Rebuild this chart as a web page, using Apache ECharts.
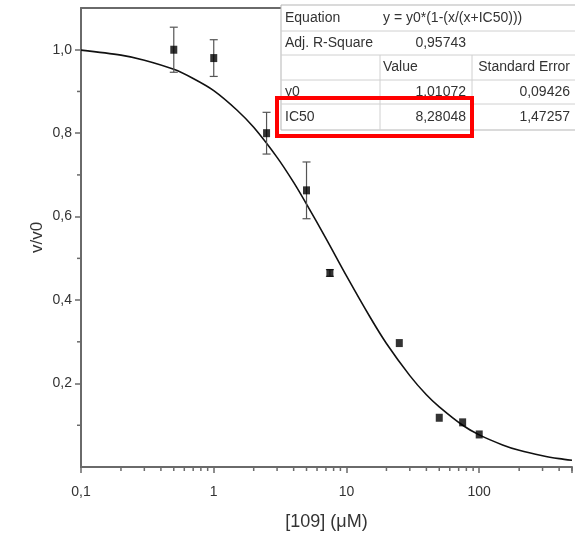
<!DOCTYPE html>
<html>
<head>
<meta charset="utf-8">
<script src="https://cdn.jsdelivr.net/npm/echarts@6/dist/echarts.min.js"></script>
<style>html,body{margin:0;padding:0;background:#fff}#c{width:575px;height:538px}</style>
</head>
<body>
<div id="c"></div>
<script>
// measured points
const xData = [0.5, 1, 2.5, 5, 7.5, 25, 50, 75, 100];
const yData = [1.00, 0.98, 0.80, 0.663, 0.465, 0.297, 0.118, 0.107, 0.078];
const yErr  = [0.054, 0.044, 0.05, 0.068, 0.008, 0, 0, 0, 0];
// fitted curve
const curveX = [0.1, 0.2, 0.3, 0.5, 0.7, 1, 1.5, 2, 3, 4, 5, 7, 10, 15, 20, 30, 40, 50, 75, 100, 150, 200, 300, 400, 500];
const curveY = [0.999, 0.987, 0.975, 0.953, 0.931, 0.902, 0.855, 0.814, 0.742, 0.682, 0.630, 0.548, 0.458, 0.360, 0.296, 0.219, 0.173, 0.144, 0.100, 0.077, 0.053, 0.040, 0.027, 0.020, 0.016];
// axis labels and ticks
const xTickLabels = [0.1, 1, 10, 100];
const yTickLabels = [0.2, 0.4, 0.6, 0.8, 1.0];
const yMinorTicks = [0.1, 0.3, 0.5, 0.7, 0.9];
const xMinorTicks = [];
[0.1, 1, 10, 100].forEach(d => { for (let k = 2; k <= 9; k++) { const v = +(d * k).toPrecision(3); if (v <= 500) xMinorTicks.push(v); } });
// fit table
const tableRows = [
  ['Equation', 'y = y0*(1-(x/(x+IC50)))', ''],
  ['Adj. R-Square', '0,95743', ''],
  ['', 'Value', 'Standard Error'],
  ['y0', '1,01072', '0,09426'],
  ['IC50', '8,28048', '1,47257']
];

const axisCol = '#6a6a6a';
const txtCol = '#333';
const fnt = 'Liberation Sans, Arial, sans-serif';

const chart = echarts.init(document.getElementById('c'));

const graphics = [];
const rowTops = [5, 31, 55, 80, 104, 130];
graphics.push({type:'rect', shape:{x:281, y:5, width:300, height:125}, style:{fill:'#fff', stroke:'#b5b5b5', lineWidth:1}, z:100});
for (let i = 1; i < rowTops.length - 1; i++) {
  graphics.push({type:'line', shape:{x1:281, y1:rowTops[i], x2:580, y2:rowTops[i]}, style:{stroke:'#d0d0d0', lineWidth:1}, z:101});
}
graphics.push({type:'line', shape:{x1:380, y1:55, x2:380, y2:130}, style:{stroke:'#d0d0d0', lineWidth:1}, z:101});
graphics.push({type:'line', shape:{x1:472, y1:55, x2:472, y2:130}, style:{stroke:'#d0d0d0', lineWidth:1}, z:101});
const tf = '14px ' + fnt;
tableRows.forEach((r, i) => {
  const cy = (rowTops[i] + rowTops[i+1]) / 2;
  graphics.push({type:'text', x:285, y:cy, style:{text:r[0], fill:txtCol, font:tf, verticalAlign:'middle', align:'left'}, z:102});
  if (i === 0) {
    graphics.push({type:'text', x:383, y:cy, style:{text:r[1], fill:txtCol, font:tf, verticalAlign:'middle', align:'left'}, z:102});
  } else if (i === 2) {
    graphics.push({type:'text', x:383, y:cy, style:{text:r[1], fill:txtCol, font:tf, verticalAlign:'middle', align:'left'}, z:102});
    graphics.push({type:'text', x:570, y:cy, style:{text:r[2], fill:txtCol, font:tf, verticalAlign:'middle', align:'right'}, z:102});
  } else {
    graphics.push({type:'text', x:466, y:cy, style:{text:r[1], fill:txtCol, font:tf, verticalAlign:'middle', align:'right'}, z:102});
    if (r[2]) graphics.push({type:'text', x:570, y:cy, style:{text:r[2], fill:txtCol, font:tf, verticalAlign:'middle', align:'right'}, z:102});
  }
});
graphics.push({type:'rect', shape:{x:277, y:98, width:195, height:38}, style:{fill:'none', stroke:'#ff0000', lineWidth:4}, z:110});

chart.setOption({
  backgroundColor: '#fff',
  animation: false,
  grid: {left: 81, right: -3, top: 8, bottom: 71, containLabel: false},
  xAxis: [{
    type: 'log', logBase: 10, min: 0.1, max: 500,
    name: '[109] (\u03bcM)', nameLocation: 'middle', nameGap: 46, nameMoveOverlap: false,
    nameTextStyle: {fontSize: 18, color: txtCol, fontFamily: fnt},
    axisLine: {show: true, lineStyle: {color: axisCol, width: 2}},
    axisTick: {show: true, length: 6, lineStyle: {color: axisCol, width: 1.5}},
    axisLabel: {margin: 18, fontSize: 14, color: txtCol, fontFamily: fnt,
      formatter: v => { const m = xTickLabels.find(t => Math.abs(t - v) / t < 1e-6); return m === undefined ? '' : String(m).replace('.', ','); }},
    splitLine: {show: false}
  }, {
    type: 'log', logBase: 10, min: 0.1, max: 500, position: 'top',
    axisLine: {show: true, lineStyle: {color: axisCol, width: 2}},
    axisTick: {show: false}, axisLabel: {show: false}, splitLine: {show: false}
  }],
  yAxis: {
    type: 'value', min: 0, max: 1.1,
    name: 'v/v0', nameLocation: 'middle', nameGap: 35, nameRotate: 90, nameMoveOverlap: false,
    nameTextStyle: {fontSize: 17, color: txtCol, fontFamily: fnt},
    axisLine: {show: true, lineStyle: {color: axisCol, width: 2}},
    axisTick: {show: true, length: 6, customValues: yTickLabels, lineStyle: {color: axisCol, width: 1.5}},
    axisLabel: {margin: 9, fontSize: 14, color: txtCol, fontFamily: fnt, customValues: yTickLabels,
      formatter: v => v.toFixed(1).replace('.', ',')},
    splitLine: {show: false}
  },
  series: [
    {
      type: 'line', xAxisIndex: 0, data: curveX.map((x, i) => [x, curveY[i]]),
      smooth: 0.3, showSymbol: false, symbol: 'none',
      lineStyle: {color: '#111', width: 1.6}, z: 3
    },
    {
      type: 'custom', xAxisIndex: 0,
      data: xData.map((x, i) => [x, yData[i], yErr[i]]),
      renderItem: (params, api) => {
        const x = api.value(0), y = api.value(1), e = api.value(2);
        if (!(e > 0)) return null;
        const t = api.coord([x, y + e]), b = api.coord([x, y - e]);
        const st = {stroke: '#555', lineWidth: 1.2};
        return {type: 'group', children: [
          {type: 'line', shape: {x1: t[0], y1: t[1], x2: b[0], y2: b[1]}, style: st},
          {type: 'line', shape: {x1: t[0] - 4, y1: t[1], x2: t[0] + 4, y2: t[1]}, style: st},
          {type: 'line', shape: {x1: b[0] - 4, y1: b[1], x2: b[0] + 4, y2: b[1]}, style: st}
        ]};
      }, z: 4
    },
    {
      type: 'scatter', xAxisIndex: 0, data: xData.map((x, i) => [x, yData[i]]),
      symbol: 'rect', symbolSize: [7, 8], itemStyle: {color: '#000'}, z: 5
    },
    {
      type: 'custom', xAxisIndex: 0, clip: false,
      data: xMinorTicks.map(v => [v, 0]),
      renderItem: (params, api) => {
        const p = api.coord([api.value(0), 0]);
        return {type: 'line', shape: {x1: p[0], y1: p[1], x2: p[0], y2: p[1] + 4}, style: {stroke: axisCol, lineWidth: 1.5}};
      }, z: 2
    },
    {
      type: 'custom', xAxisIndex: 0, clip: false,
      data: yMinorTicks.map(v => [0.1, v]),
      renderItem: (params, api) => {
        const p = api.coord([0.1, api.value(1)]);
        return {type: 'line', shape: {x1: p[0], y1: p[1], x2: p[0] - 4, y2: p[1]}, style: {stroke: axisCol, lineWidth: 1.5}};
      }, z: 2
    }
  ],
  graphic: graphics
});
</script>
</body>
</html>
